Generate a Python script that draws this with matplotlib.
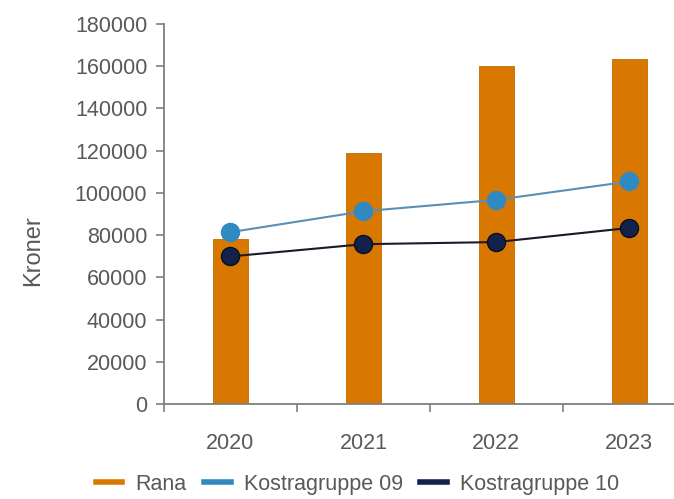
import numpy as np
import matplotlib.pyplot as plt
from matplotlib.lines import Line2D

plt.rcParams['font.family'] = ['Liberation Sans', 'DejaVu Sans']

# data
years = ['2020', '2021', '2022', '2023']
rana = [78000, 119000, 160000, 163600]
kostra_09 = [81400, 91300, 96700, 105400]
kostra_10 = [69900, 75700, 76700, 83400]

c_rana = '#D97800'
c_k09 = '#3189C1'
c_k10 = '#13224A'
txt = '#595959'
spine = '#7f7f7f'

fig = plt.figure(figsize=(6.74, 4.99), dpi=100)
ax = fig.add_axes([0.2433, 0.1904, 0.789, 0.7615])

x = np.arange(len(years))
ax.bar(x, rana, width=0.265, color=c_rana, edgecolor='#c06a00', linewidth=0.6, zorder=2)
ax.plot(x, kostra_09, color='#5b8fb5', linewidth=1.5, marker='o', markersize=13,
        markerfacecolor=c_k09, markeredgecolor=c_k09, zorder=3)
ax.plot(x, kostra_10, color='#1a1a28', linewidth=1.5, marker='o', markersize=13,
        markerfacecolor=c_k10, markeredgecolor='#0a0f1e', zorder=3)

ax.set_xlim(-0.5, 3.5)
ax.set_ylim(0, 180000)
ax.set_yticks(np.arange(0, 180001, 20000))
ax.set_xticks(x)
ax.set_xticklabels(years)
ax.set_xticks(np.arange(-0.5, 3.6, 1), minor=True)
ax.tick_params(axis='x', which='major', length=0, pad=21, labelsize=15.5, labelcolor=txt)
ax.tick_params(axis='x', which='minor', length=6, width=1.2, color=spine)
ax.tick_params(axis='y', length=6, width=1.2, color=spine, pad=6, labelsize=15.5, labelcolor=txt)

for s in ['top', 'right']:
    ax.spines[s].set_visible(False)
for s in ['left', 'bottom']:
    ax.spines[s].set_color(spine)
    ax.spines[s].set_linewidth(1.3)

fig.text(0.049, 0.497, 'Kroner', rotation=90, ha='center', va='center', fontsize=17, color=txt)

handles = [Line2D([], [], color=c_rana, linewidth=4),
           Line2D([], [], color=c_k09, linewidth=4),
           Line2D([], [], color=c_k10, linewidth=4)]
fig.legend(handles, ['Rana', 'Kostragruppe 09', 'Kostragruppe 10'],
           loc='center', bbox_to_anchor=(0.53, 0.03), ncol=3, frameon=False,
           fontsize=15.5, labelcolor=txt, handlelength=1.25, handletextpad=0.6,
           columnspacing=0.8)

fig.savefig('out.png', dpi=100)
